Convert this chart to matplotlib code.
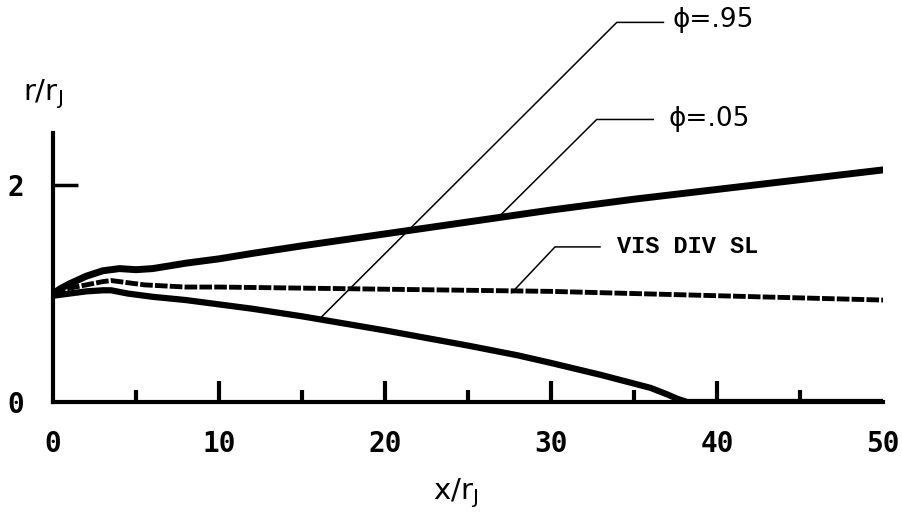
import matplotlib
matplotlib.use('Agg')
import matplotlib.pyplot as plt
import numpy as np

plt.rcParams['mathtext.default'] = 'regular'

# phi = .05 boundary (upper)
x_up = [0, 0.5, 1, 2, 3, 4, 5, 6, 8, 10, 12, 15, 20, 25, 30, 35, 40, 45, 50]
r_up = [1.0, 1.05, 1.09, 1.16, 1.21, 1.23, 1.22, 1.23, 1.28, 1.32, 1.37, 1.44, 1.55, 1.66, 1.77, 1.87, 1.96, 2.05, 2.14]

# visible dividing streamline (dashed)
x_vis = [0, 1, 2, 3, 3.5, 4.5, 5.5, 8, 10, 15, 20, 25, 30, 35, 40, 45, 50]
r_vis = [1.0, 1.05, 1.08, 1.11, 1.12, 1.1, 1.08, 1.06, 1.06, 1.05, 1.04, 1.03, 1.02, 1.0, 0.98, 0.96, 0.94]

# phi = .95 boundary (lower)
x_lo = [0, 1, 2, 3, 3.5, 4.5, 6, 8, 10, 12, 15, 20, 25, 28, 30, 33, 35, 36, 37, 37.6, 38.2, 50]
r_lo = [0.98, 1.0, 1.02, 1.03, 1.03, 1.0, 0.97, 0.94, 0.9, 0.86, 0.79, 0.66, 0.52, 0.43, 0.36, 0.25, 0.17, 0.13, 0.07, 0.03, 0.0, 0.0]

x_ticks = [0, 10, 20, 30, 40, 50]
x_minor = [5, 15, 25, 35, 45]
y_ticks = [0, 2]

fig = plt.figure(figsize=(9.02, 5.15), dpi=100)
ax = fig.add_axes([0.0588, 0.2194, 0.9202, 0.5223])

ax.plot(x_up, r_up, color='k', lw=5, solid_capstyle='round', solid_joinstyle='round')
ax.plot(x_vis, r_vis, color='k', lw=3.5, dashes=(2.6, 0.45))
ax.plot(x_lo, r_lo, color='k', lw=4.5, solid_capstyle='round', solid_joinstyle='round')

# leader lines and labels
ax.plot([16.08, 33.96, 36.77], [0.77, 3.50, 3.50], color='k', lw=1.1, clip_on=False)
ax.text(37.3, 3.52, 'ϕ=.95', fontsize=19, va='center', ha='left', family='DejaVu Sans')
ax.plot([26.93, 32.75, 36.16], [1.72, 2.605, 2.605], color='k', lw=1.1, clip_on=False)
ax.text(37.1, 2.61, 'ϕ=.05', fontsize=19, va='center', ha='left', family='DejaVu Sans')
ax.plot([27.63, 30.24, 32.95], [1.007, 1.43, 1.43], color='k', lw=1.1, clip_on=False)
ax.text(34.0, 1.43, 'VIS DIV SL', fontsize=17, va='center', ha='left', family='Liberation Mono',
        fontweight='bold')

ax.set_xlim(0, 50)
ax.set_ylim(0, 2.48)
ax.spines['top'].set_visible(False)
ax.spines['right'].set_visible(False)
ax.spines['left'].set_linewidth(3)
ax.spines['bottom'].set_linewidth(3)

ax.set_xticks(x_ticks)
ax.set_xticklabels([str(t) for t in x_ticks])
ax.set_xticks(x_minor, minor=True)
ax.set_yticks(y_ticks)
ax.set_yticklabels([str(t) for t in y_ticks])
ax.tick_params(axis='x', which='major', direction='in', length=15, width=3, pad=20)
ax.tick_params(axis='x', which='minor', direction='in', length=8.5, width=3)
ax.tick_params(axis='y', which='major', direction='in', length=18, width=2.5, pad=21)
ax.xaxis.get_major_ticks()[-1].tick1line.set_visible(False)
ax.xaxis.get_major_ticks()[0].tick1line.set_visible(False)
ax.yaxis.get_major_ticks()[0].tick1line.set_visible(False)
for lab in ax.get_xticklabels() + ax.get_yticklabels():
    lab.set_family('DejaVu Sans Mono')
    lab.set_fontweight('bold')
    lab.set_fontsize(20)

fig.text(0.025, 0.785, r'r/r$_J$', fontsize=21, family='DejaVu Sans', ha='left', va='bottom')
fig.text(0.505, 0.01, r'x/r$_J$', fontsize=21, family='DejaVu Sans', ha='center', va='bottom')

plt.savefig('out.png', dpi=100)
